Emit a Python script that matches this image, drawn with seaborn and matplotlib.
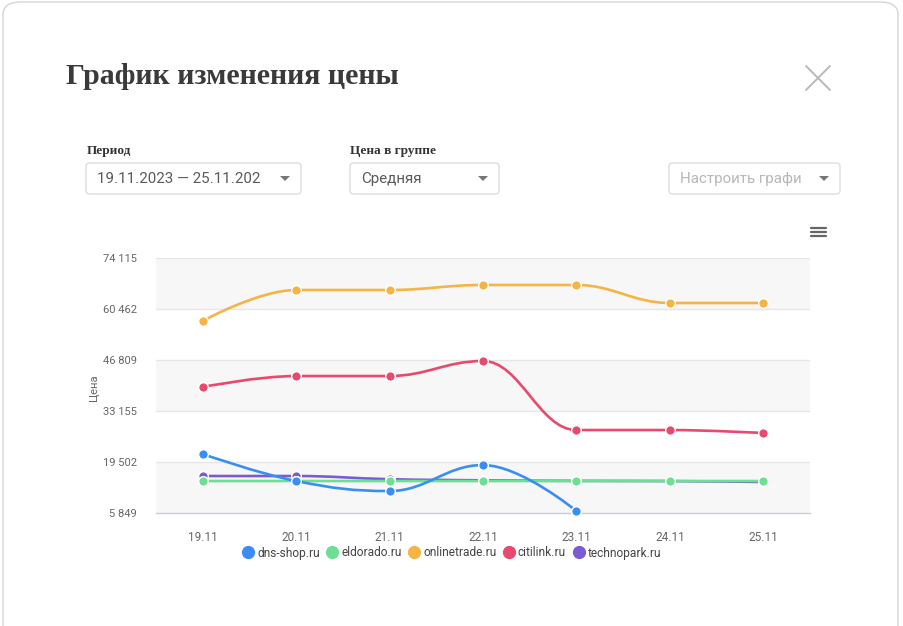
import matplotlib
matplotlib.use("Agg")
import matplotlib.pyplot as plt
import pandas as pd
import seaborn as sns
from matplotlib.lines import Line2D
from matplotlib.patches import FancyBboxPatch, PathPatch, Polygon
from matplotlib.path import Path

# --- data ---
days = ["19.11", "20.11", "21.11", "22.11", "23.11", "24.11", "25.11"]
shops = ["dns-shop.ru", "eldorado.ru", "onlinetrade.ru", "citilink.ru", "technopark.ru"]
dns_shop = [21640, 14410, 11730, 18690, 6380]
eldorado = [14410, 14410, 14410, 14410, 14410, 14410, 14410]
onlinetrade = [57250, 65550, 65550, 66890, 66890, 62070, 62070]
citilink = [39580, 42520, 42520, 46540, 28060, 28060, 27260]
technopark = [15750, 15750, 14900, 14600, 14450, 14400, 14150]
y_ticks = [5849, 19502, 33155, 46809, 60462, 74115]
colors = ["#3a8ef3", "#6ddf94", "#f5b443", "#e8496c", "#7b5bd2"]

series = {
    "dns-shop.ru": dns_shop,
    "eldorado.ru": eldorado,
    "onlinetrade.ru": onlinetrade,
    "citilink.ru": citilink,
    "technopark.ru": technopark,
}
rows = [(shop, i, v) for shop, vals in series.items() for i, v in enumerate(vals)]
df = pd.DataFrame(rows, columns=["shop", "day", "price"])
palette = dict(zip(shops, colors))

sns.set_theme(style="white")
plt.rcParams["font.family"] = ["Roboto", "DejaVu Sans"]

W, H = 904, 626
fig = plt.figure(figsize=(W / 100, H / 100), dpi=100)
fig.patch.set_facecolor("#ffffff")


def fx(px):
    return px / W


def fy(py):
    return 1 - py / H


def spline_path(xs, ys, smoothing=1.5):
    # Highcharts-style spline: cubic bezier segments through the points
    n = len(xs)
    d = smoothing + 1
    ctrl = []
    for i in range(n):
        x, y = xs[i], ys[i]
        if 0 < i < n - 1:
            lx, ly = xs[i - 1], ys[i - 1]
            nx, ny = xs[i + 1], ys[i + 1]
            lcx, lcy = (smoothing * x + lx) / d, (smoothing * y + ly) / d
            rcx, rcy = (smoothing * x + nx) / d, (smoothing * y + ny) / d
            if rcx != lcx:
                corr = (rcy - lcy) * (rcx - x) / (rcx - lcx) + y - rcy
                lcy += corr
                rcy += corr
            if lcy > ly and lcy > y:
                lcy = max(ly, y)
                rcy = 2 * y - lcy
            elif lcy < ly and lcy < y:
                lcy = min(ly, y)
                rcy = 2 * y - lcy
            if rcy > ny and rcy > y:
                rcy = max(ny, y)
                lcy = 2 * y - rcy
            elif rcy < ny and rcy < y:
                rcy = min(ny, y)
                lcy = 2 * y - rcy
            ctrl.append(((lcx, lcy), (rcx, rcy)))
        else:
            ctrl.append(((x, y), (x, y)))
    verts = [(xs[0], ys[0])]
    codes = [Path.MOVETO]
    for i in range(1, n):
        verts += [ctrl[i - 1][1], ctrl[i][0], (xs[i], ys[i])]
        codes += [Path.CURVE4] * 3
    return Path(verts, codes)


# --- modal frame ---
fig.add_artist(FancyBboxPatch((fx(3), fy(700)), fx(898) - fx(3), fy(2) - fy(700),
                              boxstyle="round,pad=0,rounding_size=0.02",
                              transform=fig.transFigure, facecolor="white",
                              edgecolor="#d5d5d5", lw=1, zorder=0))

fig.text(fx(66), fy(76), "График изменения цены", family="Liberation Serif",
         fontweight="bold", fontsize=21.5, color="#3a3a3a", va="center", ha="left")
for a, b in [((806, 66), (830, 90)), ((830, 66), (806, 90))]:
    fig.add_artist(Line2D([fx(a[0]), fx(b[0])], [fy(a[1]), fy(b[1])],
                          transform=fig.transFigure, color="#b9b9b9", lw=1.4))

# --- dropdowns ---
labels = [("Период", 87), ("Цена в группе", 350)]
for text, x in labels:
    fig.text(fx(x), fy(151), text, family="Liberation Serif", fontweight="bold",
             fontsize=9.5, color="#333333", va="center", ha="left")

boxes = [(86, 301, "19.11.2023 — 25.11.202", "#5a5a5a"),
         (350, 499, "Средняя", "#5a5a5a"),
         (669, 840, "Настроить графи", "#b8b8b8")]
for x0, x1, text, tc in boxes:
    fig.add_artist(FancyBboxPatch((fx(x0), fy(194)), fx(x1) - fx(x0), fy(163) - fy(194),
                                  boxstyle="round,pad=0,rounding_size=0.005",
                                  transform=fig.transFigure, facecolor="white",
                                  edgecolor="#dddddd", lw=1))
    fig.text(fx(x0 + 11), fy(179), text, fontsize=10.9, color=tc, va="center", ha="left")
    tx = x1 - 16
    fig.add_artist(Polygon([(fx(tx - 5), fy(176)), (fx(tx + 5), fy(176)), (fx(tx), fy(181))],
                           closed=True, transform=fig.transFigure, facecolor="#777777",
                           edgecolor="none"))

for yy in (228, 232, 236):
    fig.add_artist(Line2D([fx(811), fx(826)], [fy(yy), fy(yy)], transform=fig.transFigure,
                          color="#666666", lw=1.6))

# --- chart ---
ax = fig.add_axes([fx(156), fy(513), fx(810) - fx(156), fy(258) - fy(513)])
ax.set_facecolor("white")
ax.set_xlim(-0.5, len(days) - 0.5)
ax.set_ylim(y_ticks[0], y_ticks[-1])

for i in range(len(y_ticks) - 1):
    if (len(y_ticks) - 2 - i) % 2 == 0:
        ax.axhspan(y_ticks[i], y_ticks[i + 1], color="#f7f7f7", lw=0, zorder=0)
for t in y_ticks[1:]:
    ax.axhline(t, color="#e6e6e6", lw=1, zorder=0.5)

order = ["technopark.ru", "eldorado.ru", "onlinetrade.ru", "citilink.ru", "dns-shop.ru"]
for z, shop in enumerate(order):
    vals = series[shop]
    path = spline_path(list(range(len(vals))), vals)
    ax.add_patch(PathPatch(path, facecolor="none", edgecolor=palette[shop], lw=1.9,
                           capstyle="round", zorder=2 + 2 * z, clip_on=False))
    sub = df[df["shop"] == shop]
    sns.scatterplot(data=sub, x="day", y="price", color=palette[shop], s=48,
                    edgecolor="white", linewidth=1.0, zorder=3 + 2 * z, clip_on=False,
                    legend=False, ax=ax)

ax.set_xticks(range(len(days)))
ax.set_xticklabels(days)
ax.set_xticks([i + 0.5 for i in range(len(days) - 1)], minor=True)
ax.tick_params(axis="x", which="major", length=0, pad=13, labelsize=8.5, labelcolor="#666666")
ax.tick_params(axis="x", which="minor", length=8, width=1, color="#ccd6eb", direction="out")
ax.set_yticks(y_ticks)
ax.set_yticklabels([f"{t:,}".replace(",", " ") for t in y_ticks])
ax.tick_params(axis="y", length=0, pad=14, labelsize=8, labelcolor="#666666")
ax.set_xlabel("")
ax.set_ylabel("Цена", fontsize=8, color="#666666")
ax.yaxis.set_label_coords((99 - 156) / (810 - 156), 0.49)
for side in ("top", "left", "right"):
    ax.spines[side].set_visible(False)
ax.spines["bottom"].set_color("#c4cfe3")
ax.spines["bottom"].set_linewidth(1)
ax.spines["bottom"].set_zorder(1)

handles = [Line2D([], [], marker="o", linestyle="none", markersize=8.5,
                  markerfacecolor=palette[s], markeredgecolor=palette[s]) for s in shops]
fig.legend(handles, shops, loc="center", bbox_to_anchor=(fx(452), fy(553)), ncol=5,
           frameon=False, fontsize=8.6, labelcolor="#444444", handletextpad=0.3,
           columnspacing=0.6, handlelength=0.9)

fig.savefig("out.png", dpi=100)
